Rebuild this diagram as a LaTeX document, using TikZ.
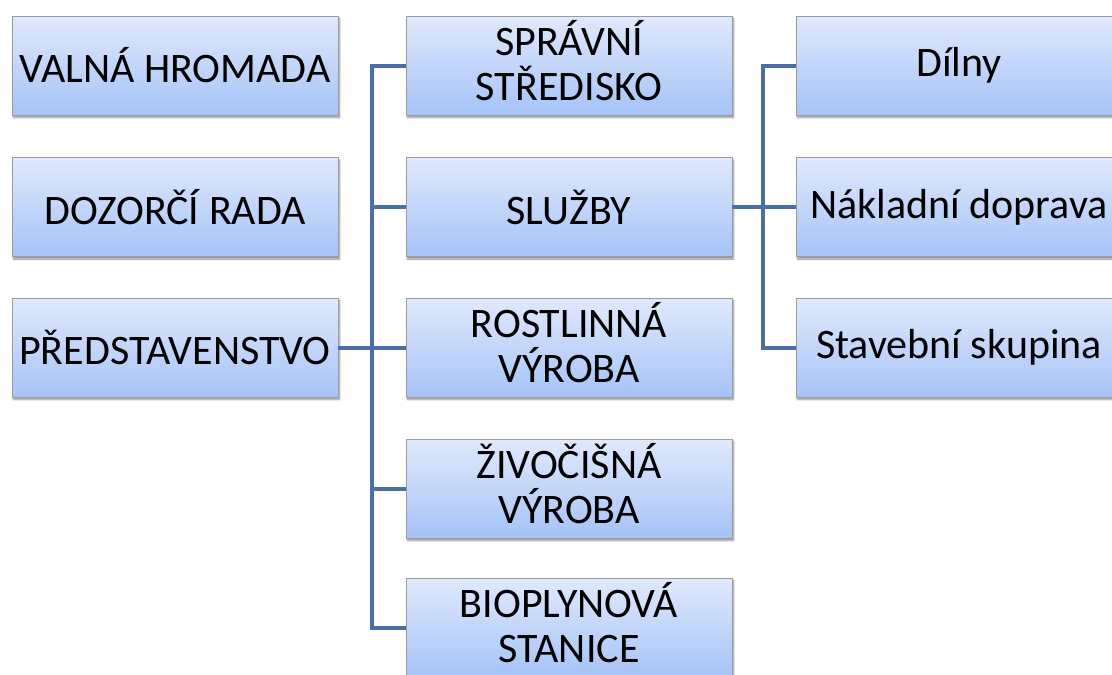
\documentclass[tikz,border=0pt]{standalone}
\usepackage{fontspec}
\setmainfont{Carlito}
\usetikzlibrary{shadows.blur}
\definecolor{boxtop}{HTML}{E0E9FC}
\definecolor{boxbot}{HTML}{A5C3F7}
\definecolor{boxedge}{HTML}{9C9C9C}
\definecolor{linkblue}{HTML}{4A6FA3}
\tikzset{
  unit/.style={draw=boxedge, line width=0.8pt, top color=boxtop, bottom color=boxbot,
    minimum width=326pt, minimum height=99pt, align=center, inner sep=0pt,
    font=\fontsize{42}{45}\selectfont,
    blur shadow={shadow blur steps=6, shadow xshift=1.5pt, shadow yshift=-2.5pt, shadow opacity=45}},
  twoline/.style={unit, text depth=10pt},
  link/.style={draw=linkblue, line width=4pt}
}
\begin{document}
\begin{tikzpicture}[x=1pt, y=-1pt]
\useasboundingbox (0,0) rectangle (1112,675);
\clip (0,0) rectangle (1112,675);
% governing bodies
\node[unit] (vh) at (175,65.5) {VALNÁ HROMADA};
\node[unit] (dr) at (175,207) {DOZORČÍ RADA};
\node[unit] (ps) at (175,347.5) {PŘEDSTAVENSTVO};
% divisions
\node[twoline] (ss) at (569,65.5) {SPRÁVNÍ\\STŘEDISKO};
\node[unit] (sl) at (569,207) {SLUŽBY};
\node[twoline] (rv) at (569,347.5) {ROSTLINNÁ\\VÝROBA};
\node[twoline] (zv) at (569,488.5) {ŽIVOČIŠNÁ\\VÝROBA};
\node[twoline] (bs) at (569,627.5) {BIOPLYNOVÁ\\STANICE};
% service units
\node[unit] (di) at (959,65.5) {Dílny};
\node[unit] (nd) at (959,207) {Nákladní doprava};
\node[unit] (sk) at (959,347.5) {Stavební skupina};
% connectors from the board
\coordinate (bus) at (372,0);
\draw[link] (ps.east) -- (ps.east -| bus);
\draw[link] (ss.west) -- (ss.west -| bus) -- (bs.west -| bus) -- (bs.west);
\foreach \n in {sl,rv,zv} \draw[link] (\n.west -| bus) -- (\n.west);
% connectors from services
\coordinate (bus2) at (763,0);
\draw[link] (sl.east) -- (sl.east -| bus2);
\draw[link] (di.west) -- (di.west -| bus2) -- (sk.west -| bus2) -- (sk.west);
\draw[link] (nd.west -| bus2) -- (nd.west);
\end{tikzpicture}
\end{document}
